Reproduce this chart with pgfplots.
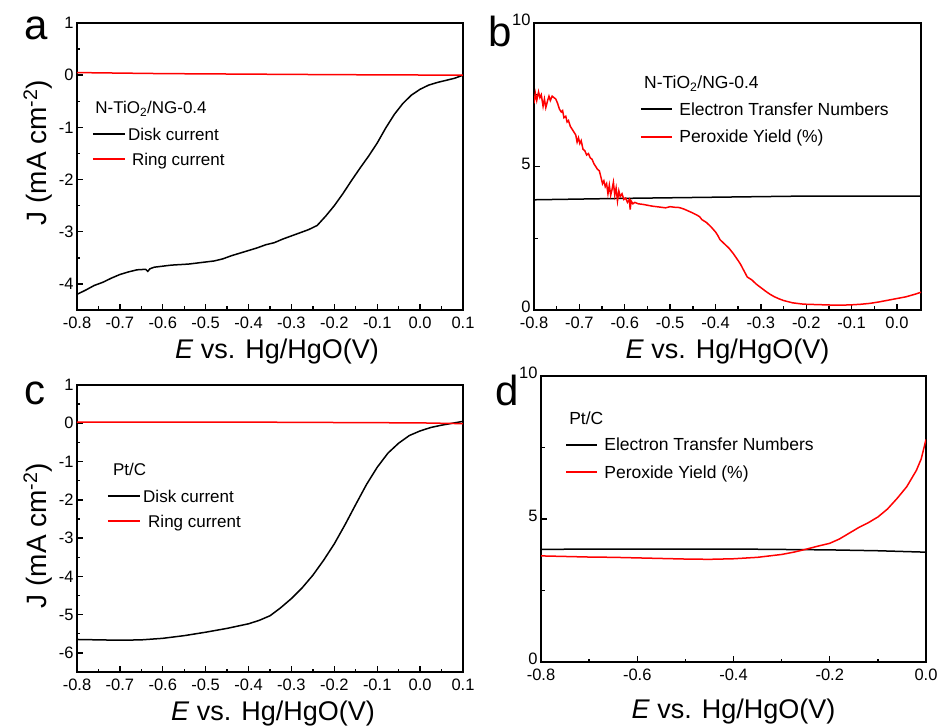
\documentclass[border=0pt]{standalone}
\usepackage{fontspec}
\setmainfont{Liberation Sans}
\usepackage{pgfplots}
\pgfplotsset{compat=1.18}
\pgfplotsset{panel/.style={
  scale only axis, anchor=south west,
  tick pos=left, tick align=inside,
  axis line style={line width=1.8pt},
  major tick length=6pt, minor tick length=3.5pt,
  tick style={black, line width=1.4pt},
  tick label style={font=\fontsize{16.5}{18}\selectfont},
  xticklabel style={yshift=-3pt},
  label style={font=\fontsize{27}{30}\selectfont},
  xlabel style={yshift=-4pt},
  every axis plot/.append style={line width=1.5pt},
}}
\newcommand{\legline}[4]{\draw[#1, line width=1.7pt] (rel axis cs:#2,#4) -- (rel axis cs:#3,#4);}
\newcommand{\legtext}[4]{\node[anchor=west, inner sep=0pt, text height=12pt, text depth=0pt, font=\fontsize{#1}{20}\selectfont] at (rel axis cs:#2,#3) {#4};}
\begin{document}
\begin{tikzpicture}
\path[use as bounding box] (0,0) rectangle (939pt,726pt);
% panel a
\begin{axis}[panel, at={(77pt,416pt)}, width=386pt, height=287pt,
  xmin=-0.8, xmax=0.1, ymin=-4.5, ymax=1,
  xtick={-0.8,-0.7,-0.6,-0.5,-0.4,-0.3,-0.2,-0.1,0.0,0.1},
  xticklabels={-0.8,-0.7,-0.6,-0.5,-0.4,-0.3,-0.2,-0.1,0.0,0.1},
  ytick={-4,-3,-2,-1,0,1}, yticklabels={-4,-3,-2,-1,0,1},
  minor xtick={-0.75,-0.65,-0.55,-0.45,-0.35,-0.25,-0.15,-0.05,0.05},
  minor ytick={-4.5,-3.5,-2.5,-1.5,-0.5,0.5},
  xlabel={\textit{E} vs. Hg/HgO(V)},
  xlabel style={xshift=7pt},
  ylabel={J (mA cm\textsuperscript{-2})},
  ylabel style={font=\fontsize{28}{30}\selectfont, xshift=14pt}]
\addplot[black] coordinates {(-0.80,-4.20) (-0.78,-4.12) (-0.76,-4.03) (-0.74,-3.97) (-0.72,-3.89) (-0.70,-3.82) (-0.68,-3.77) (-0.66,-3.73) (-0.64,-3.72) (-0.635,-3.76) (-0.63,-3.71) (-0.62,-3.68) (-0.60,-3.66) (-0.58,-3.64) (-0.56,-3.63) (-0.54,-3.62) (-0.52,-3.60) (-0.50,-3.58) (-0.48,-3.56) (-0.46,-3.52) (-0.44,-3.46) (-0.42,-3.41) (-0.40,-3.36) (-0.38,-3.31) (-0.36,-3.25) (-0.34,-3.21) (-0.32,-3.14) (-0.30,-3.08) (-0.28,-3.02) (-0.26,-2.96) (-0.24,-2.88) (-0.22,-2.70) (-0.20,-2.50) (-0.18,-2.27) (-0.16,-2.02) (-0.14,-1.78) (-0.12,-1.55) (-0.10,-1.30) (-0.08,-1.01) (-0.06,-0.75) (-0.04,-0.54) (-0.02,-0.38) (0.00,-0.27) (0.02,-0.19) (0.04,-0.14) (0.06,-0.10) (0.08,-0.06) (0.10,0.00)};
\addplot[red] coordinates {(-0.8,0.05) (-0.6,0.03) (-0.4,0.02) (-0.2,0.01) (0.1,0.0)};
\legtext{17}{0.047}{0.704}{N-TiO\textsubscript{2}/NG-0.4}
\legline{black}{0.041}{0.124}{0.613}
\legtext{17}{0.132}{0.613}{Disk current}
\legline{red}{0.041}{0.124}{0.526}
\legtext{17}{0.142}{0.526}{Ring current}
\end{axis}
% panel b
\begin{axis}[panel, at={(534pt,416pt)}, width=387pt, height=287pt,
  xmin=-0.8, xmax=0.053, ymin=0, ymax=10,
  xtick={-0.8,-0.7,-0.6,-0.5,-0.4,-0.3,-0.2,-0.1,0.0},
  xticklabels={-0.8,-0.7,-0.6,-0.5,-0.4,-0.3,-0.2,-0.1,0.0},
  ytick={0,5,10}, yticklabels={0,5,10},
  yticklabel style={yshift=3pt},
  minor xtick={-0.75,-0.65,-0.55,-0.45,-0.35,-0.25,-0.15,-0.05},
  minor ytick={2.5,7.5},
  xlabel={\textit{E} vs. Hg/HgO(V)}]
\addplot[black] coordinates {(-0.8,3.84) (-0.6,3.89) (-0.4,3.93) (-0.2,3.97) (0.053,3.97)};
\addplot[red] coordinates {(-0.800,7.2) (-0.797,7.55) (-0.794,7.3) (-0.790,7.6) (-0.787,7.4) (-0.784,7.5) (-0.780,7.1) (-0.777,7.35) (-0.774,7.05) (-0.770,7.3) (-0.767,7.45) (-0.764,7.3) (-0.760,7.45) (-0.756,7.4) (-0.752,7.35) (-0.748,7.2) (-0.744,7.0) (-0.740,6.9) (-0.737,6.95) (-0.734,6.7) (-0.730,6.75) (-0.727,6.55) (-0.724,6.6) (-0.720,6.4) (-0.716,6.3) (-0.712,6.2) (-0.708,6.1) (-0.705,5.85) (-0.702,6.0) (-0.699,5.8) (-0.696,5.9) (-0.692,5.6) (-0.688,5.55) (-0.684,5.4) (-0.680,5.45) (-0.676,5.3) (-0.672,5.25) (-0.668,5.1) (-0.664,5.0) (-0.660,4.9) (-0.656,4.85) (-0.652,4.6) (-0.649,4.4) (-0.646,4.5) (-0.643,4.3) (-0.640,4.4) (-0.637,4.05) (-0.634,4.35) (-0.631,4.0) (-0.628,4.2) (-0.625,4.45) (-0.622,4.0) (-0.619,4.25) (-0.616,3.8) (-0.613,4.15) (-0.610,3.95) (-0.606,4.05) (-0.602,3.85) (-0.598,3.9) (-0.594,3.75) (-0.590,3.85) (-0.588,3.5) (-0.586,3.8) (-0.582,3.7) (-0.578,3.75) (-0.57,3.7) (-0.56,3.68) (-0.55,3.65) (-0.54,3.62) (-0.53,3.6) (-0.52,3.58) (-0.51,3.56) (-0.50,3.6) (-0.49,3.58) (-0.48,3.57) (-0.47,3.52) (-0.46,3.45) (-0.45,3.38) (-0.44,3.3) (-0.435,3.25) (-0.43,3.15) (-0.42,3.05) (-0.41,2.9) (-0.40,2.72) (-0.395,2.6) (-0.39,2.45) (-0.38,2.3) (-0.37,2.15) (-0.36,1.95) (-0.35,1.72) (-0.345,1.6) (-0.34,1.45) (-0.335,1.3) (-0.33,1.15) (-0.32,1.05) (-0.31,0.9) (-0.30,0.78) (-0.29,0.66) (-0.28,0.55) (-0.27,0.46) (-0.26,0.39) (-0.25,0.33) (-0.24,0.29) (-0.23,0.25) (-0.22,0.23) (-0.21,0.21) (-0.20,0.2) (-0.18,0.19) (-0.16,0.18) (-0.14,0.17) (-0.12,0.17) (-0.10,0.18) (-0.08,0.2) (-0.06,0.23) (-0.04,0.28) (-0.02,0.34) (0.00,0.4) (0.02,0.46) (0.04,0.55) (0.053,0.62)};
\legtext{17.5}{0.284}{0.791}{N-TiO\textsubscript{2}/NG-0.4}
\legline{black}{0.276}{0.357}{0.700}
\legtext{17.5}{0.375}{0.700}{Electron Transfer Numbers}
\legline{red}{0.276}{0.357}{0.603}
\legtext{17.5}{0.375}{0.603}{Peroxide Yield (\%)}
\end{axis}
% panel c
\begin{axis}[panel, at={(77pt,54pt)}, width=386pt, height=287pt,
  xmin=-0.8, xmax=0.1, ymin=-6.5, ymax=1,
  xtick={-0.8,-0.7,-0.6,-0.5,-0.4,-0.3,-0.2,-0.1,0.0,0.1},
  xticklabels={-0.8,-0.7,-0.6,-0.5,-0.4,-0.3,-0.2,-0.1,0.0,0.1},
  ytick={-6,-5,-4,-3,-2,-1,0,1}, yticklabels={-6,-5,-4,-3,-2,-1,0,1},
  minor xtick={-0.75,-0.65,-0.55,-0.45,-0.35,-0.25,-0.15,-0.05,0.05},
  minor ytick={-6.5,-5.5,-4.5,-3.5,-2.5,-1.5,-0.5,0.5},
  xlabel={\textit{E} vs. Hg/HgO(V)},
  xlabel style={xshift=3pt},
  ylabel={J (mA cm\textsuperscript{-2})},
  ylabel style={font=\fontsize{28}{30}\selectfont, xshift=-7pt}]
\addplot[black] coordinates {(-0.80,-5.65) (-0.75,-5.66) (-0.70,-5.67) (-0.65,-5.66) (-0.60,-5.62) (-0.55,-5.55) (-0.50,-5.46) (-0.45,-5.36) (-0.40,-5.24) (-0.375,-5.15) (-0.35,-5.03) (-0.325,-4.82) (-0.30,-4.58) (-0.275,-4.30) (-0.25,-3.97) (-0.225,-3.58) (-0.20,-3.15) (-0.175,-2.65) (-0.15,-2.12) (-0.125,-1.60) (-0.10,-1.15) (-0.075,-0.78) (-0.05,-0.52) (-0.025,-0.32) (0.00,-0.20) (0.025,-0.11) (0.05,-0.05) (0.075,0.00) (0.10,0.05)};
\addplot[red] coordinates {(-0.8,0.03) (-0.4,0.03) (0.0,0.01) (0.1,-0.01)};
\legtext{17}{0.093}{0.704}{Pt/C}
\legline{black}{0.080}{0.163}{0.613}
\legtext{17}{0.171}{0.613}{Disk current}
\legline{red}{0.080}{0.163}{0.526}
\legtext{17}{0.184}{0.526}{Ring current}
\end{axis}
% panel d
\begin{axis}[panel, at={(541pt,64pt)}, width=385pt, height=286pt,
  xmin=-0.8, xmax=0.0, ymin=0, ymax=10,
  xtick={-0.8,-0.6,-0.4,-0.2,0.0},
  xticklabels={-0.8,-0.6,-0.4,-0.2,0.0},
  ytick={0,5,10}, yticklabels={0,5,10},
  yticklabel style={yshift=3pt},
  minor xtick={-0.7,-0.5,-0.3,-0.1},
  minor ytick={2.5,7.5},
  xlabel={\textit{E} vs. Hg/HgO(V)},
  xlabel style={yshift=-8pt}]
\addplot[black] coordinates {(-0.8,3.94) (-0.6,3.95) (-0.4,3.95) (-0.2,3.92) (-0.1,3.89) (0,3.84)};
\addplot[red] coordinates {(-0.80,3.71) (-0.75,3.69) (-0.70,3.67) (-0.65,3.66) (-0.60,3.64) (-0.55,3.62) (-0.50,3.60) (-0.45,3.59) (-0.40,3.61) (-0.35,3.66) (-0.30,3.76) (-0.275,3.84) (-0.25,3.94) (-0.225,4.05) (-0.20,4.15) (-0.18,4.30) (-0.16,4.50) (-0.14,4.70) (-0.12,4.87) (-0.10,5.07) (-0.08,5.35) (-0.06,5.72) (-0.04,6.13) (-0.02,6.70) (-0.01,7.10) (0.00,7.78)};
\legtext{17.5}{0.073}{0.853}{Pt/C}
\legline{black}{0.065}{0.145}{0.759}
\legtext{17.5}{0.164}{0.759}{Electron Transfer Numbers}
\legline{red}{0.065}{0.145}{0.664}
\legtext{17.5}{0.164}{0.664}{Peroxide Yield (\%)}
\end{axis}
\node[anchor=base west, font=\fontsize{42}{44}\selectfont] at (21pt,686pt) {a};
\node[anchor=base west, font=\fontsize{42}{44}\selectfont] at (485pt,679pt) {b};
\node[anchor=base west, font=\fontsize{42}{44}\selectfont] at (21pt,321pt) {c};
\node[anchor=base west, font=\fontsize{42}{44}\selectfont] at (492pt,320pt) {d};
\end{tikzpicture}
\end{document}
